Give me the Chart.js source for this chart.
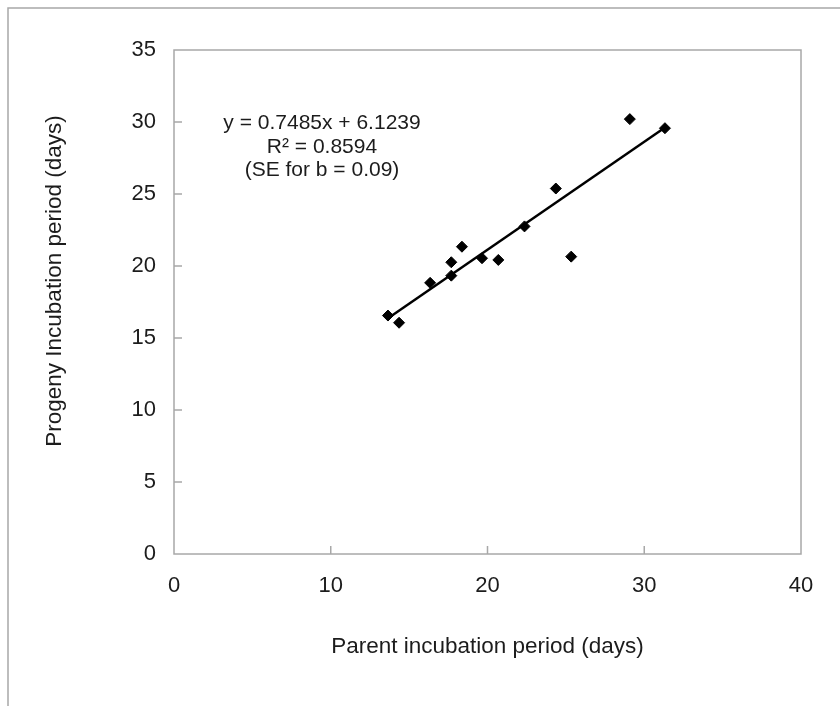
<!DOCTYPE html>
<html>
<head>
<meta charset="utf-8">
<script src="https://cdn.jsdelivr.net/npm/chart.js@4"></script>
<style>
  html, body { margin: 0; padding: 0; background: #fff; }
  #wrap { width: 840px; height: 706px; }
</style>
</head>
<body>
<div id="wrap"><canvas id="chart" width="840" height="706"></canvas></div>
<script>
// data
const parentDays = [13.65, 14.36, 16.34, 17.69, 17.69, 18.37, 19.65, 20.69, 22.36, 24.36, 25.34, 29.08, 31.32];
const progenyDays = [16.56, 16.06, 18.83, 19.33, 20.26, 21.34, 20.54, 20.42, 22.75, 25.38, 20.65, 30.2, 29.57];

// fitted line end points
const trendX = [13.7, 31.3];
const trendY = [16.4, 29.6];

const xTicks = [0, 10, 20, 30, 40];
const yTicks = [0, 5, 10, 15, 20, 25, 30, 35];

const fitText = ["y = 0.7485x + 6.1239", "R\u00b2 = 0.8594", "(SE for b = 0.09)"];
const xTitle = "Parent incubation period (days)";
const yTitle = "Progeny Incubation period (days)";

const FONT = "'Liberation Sans', Arial, Helvetica, sans-serif";
const AXIS_GREY = "#a8a8a8";
const TEXT = "#1c1c1c";

Chart.defaults.font.family = FONT;
Chart.defaults.font.size = 22;
Chart.defaults.color = TEXT;

// frame, box, inner ticks, y title and equation text
const decor = {
  id: "decor",
  beforeDraw(chart) {
    const ctx = chart.ctx;
    ctx.save();
    ctx.strokeStyle = AXIS_GREY;
    ctx.lineWidth = 1.5;
    ctx.beginPath();
    ctx.moveTo(8, 706);
    ctx.lineTo(8, 8);
    ctx.lineTo(840, 8);
    ctx.stroke();
    ctx.restore();
  },
  afterDraw(chart) {
    const { ctx, chartArea: a, scales } = chart;
    ctx.save();
    ctx.strokeStyle = AXIS_GREY;
    ctx.lineWidth = 1.5;
    ctx.strokeRect(a.left, a.top, a.right - a.left, a.bottom - a.top);

    ctx.beginPath();
    yTicks.slice(1, -1).forEach(v => {
      const y = scales.y.getPixelForValue(v);
      ctx.moveTo(a.left, y);
      ctx.lineTo(a.left + 8, y);
    });
    xTicks.slice(1, -1).forEach(v => {
      const x = scales.x.getPixelForValue(v);
      ctx.moveTo(x, a.bottom);
      ctx.lineTo(x, a.bottom - 8);
    });
    ctx.stroke();

    ctx.fillStyle = TEXT;
    ctx.textAlign = "center";
    ctx.textBaseline = "middle";

    ctx.save();
    ctx.font = "22.5px " + FONT;
    ctx.translate(55, 281);
    ctx.rotate(-Math.PI / 2);
    ctx.fillText(yTitle, 0, 0);
    ctx.restore();

    ctx.font = "21px " + FONT;
    const lineY = [123, 147, 170];
    fitText.forEach((t, i) => ctx.fillText(t, 322, lineY[i]));
    ctx.restore();
  }
};

const scatterPts = parentDays.map((x, i) => ({ x, y: progenyDays[i] }));
const trendPts = trendX.map((x, i) => ({ x, y: trendY[i] }));

new Chart(document.getElementById("chart"), {
  type: "scatter",
  data: {
    datasets: [
      {
        type: "line",
        data: trendPts,
        borderColor: "#000",
        borderWidth: 2.5,
        pointRadius: 0,
        fill: false,
        tension: 0
      },
      {
        data: scatterPts,
        pointStyle: "rectRot",
        pointRadius: 5.5,
        pointBackgroundColor: "#000",
        pointBorderColor: "#000",
        pointBorderWidth: 1
      }
    ]
  },
  options: {
    responsive: false,
    animation: false,
    devicePixelRatio: 1,
    layout: { padding: { top: 50, right: 39, left: 0, bottom: 0 } },
    plugins: {
      legend: { display: false },
      tooltip: { enabled: false }
    },
    scales: {
      x: {
        type: "linear",
        min: 0,
        max: 40,
        afterFit: s => { s.height = 152; },
        afterBuildTicks: s => { s.ticks = xTicks.map(v => ({ value: v })); },
        grid: { display: false, drawTicks: false },
        border: { display: false },
        ticks: { padding: 19, color: TEXT, font: { size: 22 } },
        title: { display: true, text: xTitle, color: TEXT, font: { size: 22.5 }, padding: { top: 0, bottom: 45.5 } }
      },
      y: {
        type: "linear",
        min: 0,
        max: 35,
        afterFit: s => { s.width = 174; },
        afterBuildTicks: s => { s.ticks = yTicks.map(v => ({ value: v })); },
        grid: { display: false, drawTicks: false },
        border: { display: false },
        ticks: { padding: 18, color: TEXT, font: { size: 22 } }
      }
    }
  },
  plugins: [decor]
});
</script>
</body>
</html>
